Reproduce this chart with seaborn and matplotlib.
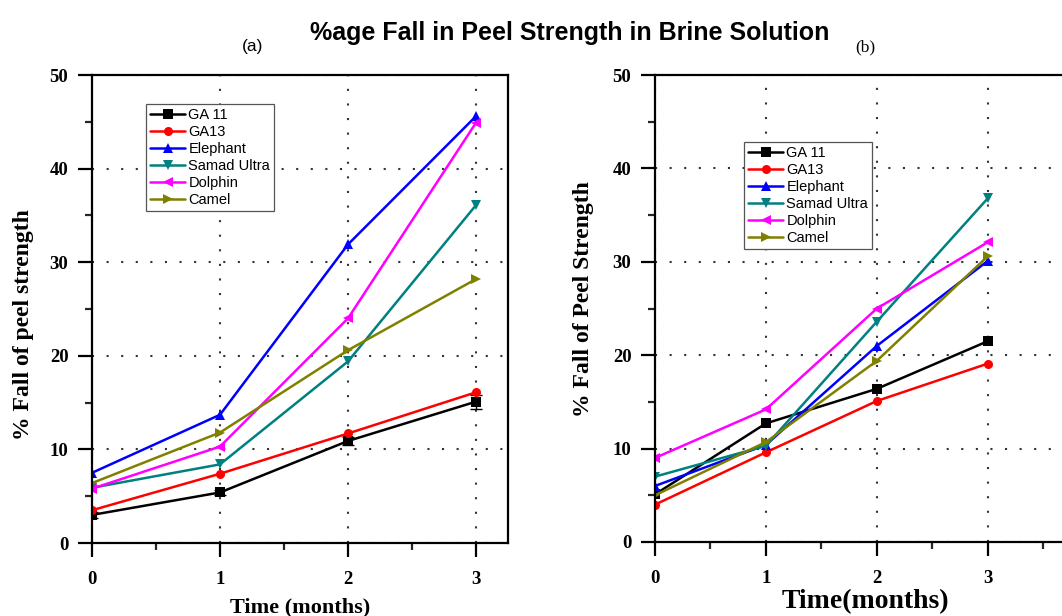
import numpy as np
import pandas as pd
import matplotlib
matplotlib.use("Agg")
import matplotlib.pyplot as plt
import seaborn as sns
from matplotlib.ticker import MultipleLocator

sns.set_theme(style="ticks")
plt.rcParams["font.family"] = ["Liberation Serif", "DejaVu Serif"]
plt.rcParams["text.color"] = "black"
plt.rcParams["axes.labelcolor"] = "black"

# --- data ---
months = [0, 1, 2, 3]
brands = ["GA 11", "GA13", "Elephant", "Samad Ultra", "Dolphin", "Camel"]

fall_a = {
    "GA 11": [3.0, 5.4, 10.9, 15.1],
    "GA13": [3.5, 7.4, 11.7, 16.1],
    "Elephant": [7.5, 13.7, 31.9, 45.6],
    "Samad Ultra": [5.9, 8.4, 19.4, 36.1],
    "Dolphin": [5.8, 10.3, 24.0, 44.9],
    "Camel": [6.4, 11.8, 20.6, 28.2],
}
ga11_err_a = [0.3, 0.3, 0.4, 0.75]

fall_b = {
    "GA 11": [5.1, 12.7, 16.4, 21.5],
    "GA13": [4.0, 9.6, 15.1, 19.1],
    "Elephant": [6.0, 10.4, 21.0, 30.1],
    "Samad Ultra": [7.0, 10.3, 23.6, 36.8],
    "Dolphin": [9.0, 14.2, 25.0, 32.1],
    "Camel": [5.0, 10.7, 19.4, 30.6],
}

colors = {
    "GA 11": "#000000",
    "GA13": "#ff0000",
    "Elephant": "#0000ff",
    "Samad Ultra": "#008080",
    "Dolphin": "#ff00ff",
    "Camel": "#808000",
}
markers = {
    "GA 11": "s",
    "GA13": "o",
    "Elephant": "^",
    "Samad Ultra": "v",
    "Dolphin": "<",
    "Camel": ">",
}

W, H = 1062, 616
fig = plt.figure(figsize=(W / 100, H / 100), dpi=100)


def px_axes(x0, y0, x1, y1):
    # pixel box (top-left origin) -> figure fraction axes
    return fig.add_axes([x0 / W, 1 - y1 / H, (x1 - x0) / W, (y1 - y0) / H])


def draw_panel(ax, data, xmax, xlabel, ylabel, xl_size, yl_size, leg_px):
    for b in brands:
        df = pd.DataFrame({"month": months, "fall": data[b]})
        sns.lineplot(data=df, x="month", y="fall", ax=ax, color=colors[b],
                     marker=markers[b], markersize=6.5, markeredgewidth=0,
                     linewidth=1.8, label=b, sort=False)
    ax.set_xlim(0, xmax)
    ax.set_ylim(0, 50)
    ax.xaxis.set_major_locator(MultipleLocator(1))
    ax.xaxis.set_minor_locator(MultipleLocator(0.5))
    ax.yaxis.set_major_locator(MultipleLocator(10))
    ax.yaxis.set_minor_locator(MultipleLocator(5))
    ax.tick_params(which="major", direction="out", length=10, width=1.6,
                   labelsize=13.5, colors="black")
    ax.tick_params(axis="x", which="major", pad=10)
    ax.tick_params(axis="y", which="major", pad=7)
    ax.tick_params(which="minor", direction="out", length=5, width=1.6)
    for lab in ax.get_xticklabels() + ax.get_yticklabels():
        lab.set_fontweight("bold")
    ax.grid(True, which="major", linestyle=(0, (1, 6)), color="#333333",
            linewidth=1.5)
    for s in ax.spines.values():
        s.set_linewidth(1.6)
        s.set_color("black")
    ax.set_xlabel(xlabel, fontsize=xl_size, fontweight="bold")
    ax.set_ylabel(ylabel, fontsize=yl_size, fontweight="bold")
    # legend placed at pixel position of its upper-left corner
    lx, ly = leg_px
    ax.legend(loc="upper left", bbox_to_anchor=(lx / W, 1 - ly / H),
              bbox_transform=fig.transFigure, frameon=True, fancybox=False,
              edgecolor="#555555", framealpha=1, borderpad=0.3,
              labelspacing=0.2, handlelength=2.4, handletextpad=0.2,
              borderaxespad=0, prop={"family": "Liberation Sans", "size": 10.5})
    ax.get_legend().get_frame().set_linewidth(0.9)


ax_a = px_axes(92, 75, 508, 543)
draw_panel(ax_a, fall_a, 3.25, "Time (months)", "% Fall of peel strength",
           16, 17, (146, 104))
ax_a.errorbar(months, fall_a["GA 11"], yerr=ga11_err_a, fmt="none",
              ecolor="black", elinewidth=1, capsize=4, zorder=1)
ax_a.xaxis.set_label_coords(0.5, -0.117)
ax_a.yaxis.set_label_coords(-0.139, 0.466)

ax_b = px_axes(655, 75, 655 + 416, 542)
draw_panel(ax_b, fall_b, 3.75, "Time(months)", "% Fall of Peel Strength",
           20, 17, (744, 142))
ax_b.xaxis.set_label_coords(0.507, -0.1)
ax_b.yaxis.set_label_coords(-0.147, 0.52)

fig.text(570 / W, 1 - 33 / H, "%age Fall in Peel Strength in Brine Solution",
         ha="center", va="center", fontsize=18, fontweight="bold",
         family="Liberation Sans", color="black")
fig.text(253 / W, 1 - 47 / H, "(a)", ha="center", va="center", fontsize=12.5,
         family="Liberation Sans", color="black")
fig.text(865 / W, 1 - 47 / H, "(b)", ha="center", va="center", fontsize=12.5,
         color="black")

fig.savefig("out.png", dpi=100)
